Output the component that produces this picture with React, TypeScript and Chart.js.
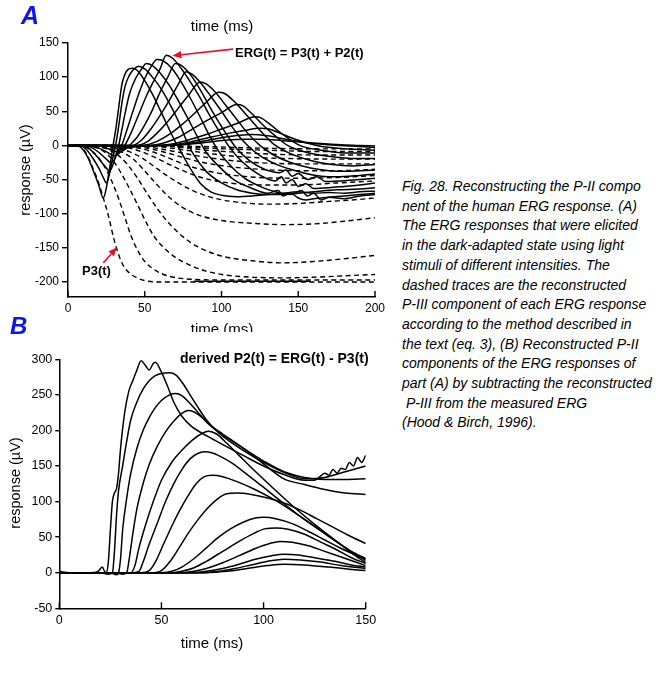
import React, { useEffect, useRef } from "react";
import { Chart, registerables } from "chart.js";

Chart.register(...registerables);

const FONT = '"Liberation Sans", Arial, Helvetica, sans-serif';

// ---------- tick labels ----------
const aXTicks = [0, 50, 100, 150, 200];
const aYTicks = [-200, -150, -100, -50, 0, 50, 100, 150];
const bXTicks = [0, 50, 100, 150];
const bYTicks = [-50, 0, 50, 100, 150, 200, 250, 300];

// ---------- panel A: measured ERG(t) (solid), brightest first ----------
const ergTraces: number[][][] = [
  [[0,0],[6,0],[9,-4],[13,-18],[17,-40],[20,-58],[23,-77],[25,-62],[27,-35],[29,-5],[31,22],[33,55],[35,88],[37,104],[39,111],[42,113],[45,110],[50,95],[55,75],[60,52],[65,28],[70,5],[75,-15],[80,-35],[86,-55],[93,-68],[100,-73],[110,-75],[120,-74],[130,-72],[140,-70],[150,-68],[160,-70],[170,-69],[180,-70],[190,-68],[200,-67]],
  [[0,0],[8,0],[12,-6],[16,-18],[20,-33],[23,-47],[25,-55],[27,-42],[29,-20],[31,0],[33,28],[35,60],[37,85],[40,103],[43,112],[46,116],[50,112],[55,100],[60,85],[66,62],[72,35],[77,8],[82,-14],[90,-38],[100,-55],[110,-65],[120,-70],[130,-72],[140,-72],[150,-70],[160,-68],[175,-65],[190,-64],[200,-62]],
  [[0,0],[10,0],[14,-5],[18,-14],[22,-25],[25,-33],[27,-38],[29,-30],[31,-15],[33,0],[35,22],[37,45],[40,75],[44,98],[48,112],[51,120],[55,117],[60,106],[66,88],[72,65],[78,40],[84,14],[90,-10],[98,-30],[108,-50],[120,-63],[130,-70],[137,-66],[140,-74],[145,-70],[150,-77],[155,-80],[160,-78],[170,-76],[180,-74],[190,-72],[200,-70]],
  [[0,0],[12,0],[16,-4],[20,-10],[24,-18],[28,-25],[30,-22],[32,-12],[35,0],[38,20],[42,48],[46,75],[50,98],[54,115],[58,126],[62,124],[68,112],[74,92],[80,68],[86,42],[92,15],[98,-8],[106,-30],[115,-48],[125,-60],[135,-68],[145,-72],[152,-66],[156,-74],[160,-70],[165,-80],[170,-76],[180,-78],[190,-74],[200,-72]],
  [[0,0],[15,0],[20,-4],[25,-9],[30,-15],[33,-12],[37,0],[41,18],[46,45],[51,72],[56,95],[60,112],[64,132],[68,128],[74,112],[80,92],[86,70],[92,45],[100,15],[106,-5],[114,-25],[124,-42],[135,-52],[139,-46],[142,-55],[146,-50],[150,-60],[155,-56],[160,-63],[170,-62],[180,-60],[190,-58],[200,-55]],
  [[0,0],[20,0],[25,-4],[30,-8],[33,-10],[37,-6],[40,0],[45,12],[50,30],[55,52],[60,78],[65,100],[70,120],[74,117],[80,103],[86,82],[92,58],[98,35],[104,14],[110,-5],[118,-22],[128,-35],[138,-40],[142,-36],[146,-45],[150,-41],[156,-50],[162,-46],[168,-53],[178,-52],[190,-50],[200,-48]],
  [[0,0],[25,0],[30,-3],[34,-6],[38,-4],[43,0],[48,8],[54,24],[60,44],[66,66],[72,90],[77,108],[81,104],[87,90],[93,72],[100,50],[106,30],[112,12],[117,0],[125,-15],[135,-27],[145,-35],[155,-41],[165,-45],[175,-46],[190,-44],[200,-42]],
  [[0,0],[28,0],[32,-2],[36,-4],[41,-2],[46,0],[52,6],[58,18],[65,35],[72,55],[79,75],[86,93],[90,90],[96,78],[103,58],[110,38],[117,18],[125,0],[134,-14],[145,-25],[158,-33],[170,-37],[182,-38],[200,-36]],
  [[0,0],[30,0],[38,-3],[44,-2],[50,0],[58,6],[66,16],[74,30],[82,46],[90,63],[98,78],[102,76],[108,65],[115,48],[122,30],[128,15],[134,2],[145,-12],[158,-22],[172,-28],[186,-30],[200,-28]],
  [[0,0],[35,0],[40,-2],[48,-1],[55,0],[63,4],[72,12],[81,24],[90,36],[100,48],[110,60],[114,58],[120,46],[127,30],[135,14],[143,0],[155,-10],[170,-16],[185,-19],[200,-19]],
  [[0,0],[40,-1],[50,-1],[60,0],[70,3],[80,9],[90,16],[100,24],[110,32],[122,42],[126,40],[132,30],[140,16],[151,0],[165,-7],[180,-11],[200,-11]],
  [[0,0],[50,0],[65,0],[75,3],[85,8],[95,13],[105,18],[115,22],[125,25],[131,24],[138,18],[148,9],[162,0],[180,-5],[200,-7]],
  [[0,0],[60,0],[72,1],[82,4],[92,8],[102,12],[112,15],[120,16],[130,14],[142,9],[155,4],[170,1],[185,-1],[200,-3]],
  [[0,0],[65,0],[80,2],[92,5],[104,8],[115,9],[126,9],[140,7],[158,4],[178,1],[190,0],[200,-1]],
];

// ---------- panel A: reconstructed P3(t) (dashed), brightest first ----------
const p3Traces: number[][][] = [
  [[0,0],[8,-2],[12,-12],[16,-32],[20,-55],[23,-77],[26,-100],[28,-119],[30,-138],[33,-160],[36,-176],[40,-187],[45,-194],[50,-198],[60,-200],[100,-200],[150,-200],[200,-200]],
  [[0,0],[12,-3],[16,-9],[20,-18],[25,-36],[29,-55],[33,-78],[37,-105],[41,-132],[45,-152],[50,-170],[57,-183],[65,-191],[80,-196],[100,-197],[130,-197],[160,-197],[200,-197]],
  [[0,0],[18,-3],[24,-10],[30,-24],[35,-42],[40,-63],[46,-90],[51,-113],[56,-133],[63,-151],[70,-164],[80,-176],[90,-184],[100,-189],[120,-193],[140,-194],[160,-193],[180,-191],[200,-189]],
  [[0,0],[22,-3],[28,-8],[33,-15],[38,-26],[45,-47],[52,-72],[58,-92],[65,-112],[75,-134],[85,-149],[100,-162],[120,-169],[140,-172],[160,-170],[180,-166],[200,-161]],
  [[0,0],[26,-3],[32,-7],[38,-13],[43,-21],[51,-40],[59,-60],[66,-76],[74,-90],[85,-102],[100,-110],[120,-114],[140,-116],[160,-115],[180,-111],[200,-106]],
  [[0,0],[30,-3],[36,-6],[42,-11],[48,-18],[55,-29],[63,-42],[72,-55],[82,-67],[95,-77],[110,-83],[130,-86],[150,-85],[170,-82],[185,-80],[200,-77]],
  [[0,0],[35,-2],[42,-5],[50,-11],[58,-19],[67,-29],[77,-39],[90,-49],[105,-55],[125,-58],[150,-58],[175,-55],[200,-52]],
  [[0,0],[40,-2],[48,-5],[56,-10],[65,-18],[76,-28],[90,-37],[105,-43],[125,-47],[150,-48],[175,-47],[200,-44]],
  [[0,0],[45,-2],[54,-5],[63,-10],[74,-17],[88,-25],[105,-31],[125,-35],[150,-37],[175,-37],[200,-35]],
  [[0,0],[50,-2],[60,-5],[72,-10],[86,-16],[102,-21],[122,-25],[150,-27],[200,-27]],
  [[0,0],[55,-1],[67,-4],[80,-8],[96,-13],[115,-17],[140,-19],[170,-20],[200,-20]],
  [[0,0],[60,-1],[74,-3],[90,-7],[110,-10],[135,-13],[170,-14],[200,-14]],
  [[0,0],[65,-1],[82,-3],[102,-5],[130,-7],[165,-9],[200,-9]],
  [[0,0],[75,-1],[95,-2],[125,-4],[165,-5],[200,-5]],
];
const p3SaturationSegment: number[][] = [[82,-199],[158,-199]];

// ---------- panel B: derived P2(t), brightest first ----------
const p2Traces: number[][][] = [
  [[0,2],[5,0],[10,0],[15,0],[19,2],[21,8],[22,3],[23,0],[24,15],[25,60],[26,100],[27,112],[28,118],[29,140],[30,175],[32,225],[34,255],[36,270],[38,285],[40,298],[42,292],[44,285],[46,294],[47,296],[50,282],[53,262],[56,240],[60,220],[65,205],[70,196],[75,188],[80,180],[90,165],[100,150],[110,138],[120,130],[125,130],[128,136],[130,140],[132,137],[134,145],[136,140],[138,147],[140,145],[142,155],[144,150],[146,162],[148,155],[150,165]],
  [[0,0],[20,0],[24,-2],[26,0],[27,30],[28,80],[29,115],[31,150],[33,185],[35,215],[38,240],[41,258],[44,270],[47,277],[50,280],[54,281],[57,278],[60,268],[64,250],[68,232],[72,215],[76,202],[80,192],[90,172],[100,155],[110,141],[120,132],[130,134],[140,142],[150,150]],
  [[0,0],[25,0],[28,-3],[29,0],[30,20],[31,60],[33,105],[35,140],[38,175],[41,200],[44,218],[47,232],[50,242],[54,250],[57,252],[60,249],[64,238],[68,225],[72,212],[76,202],[80,194],[90,175],[100,157],[110,142],[120,134],[130,131],[140,131],[150,132]],
  [[0,0],[28,0],[31,-2],[33,0],[34,15],[36,55],[38,90],[41,125],[44,152],[48,178],[52,198],[56,213],[60,224],[63,228],[66,226],[70,218],[75,205],[80,195],[90,175],[100,153],[110,132],[120,124],[130,117],[140,112],[150,110]],
  [[0,0],[30,0],[35,0],[37,10],[39,35],[42,65],[46,100],[50,130],[55,155],[60,172],[65,186],[70,196],[73,199],[77,195],[82,182],[88,165],[95,145],[105,118],[115,92],[125,68],[135,46],[143,28],[150,14]],
  [[0,0],[35,0],[39,2],[41,15],[44,40],[48,70],[52,100],[56,125],[60,145],[64,160],[68,168],[72,170],[77,166],[84,155],[92,138],[100,120],[110,97],[120,75],[130,55],[140,35],[150,17]],
  [[0,0],[40,0],[44,3],[47,15],[51,40],[55,65],[59,88],[63,108],[67,125],[71,135],[75,137],[80,135],[87,128],[95,118],[105,103],[115,85],[125,65],[135,45],[143,30],[150,20]],
  [[0,0],[45,0],[50,3],[54,15],[58,32],[63,55],[68,75],[73,92],[78,105],[82,111],[87,112],[94,110],[102,105],[110,98],[118,88],[126,76],[134,64],[142,52],[150,41]],
  [[0,0],[50,0],[55,2],[60,8],[66,20],[72,35],[78,50],[84,62],[90,71],[96,77],[100,78],[106,76],[114,69],[122,58],[130,46],[138,34],[145,25],[150,19]],
  [[0,0],[55,0],[60,2],[66,7],[72,16],[80,30],[88,44],[95,55],[101,62],[106,63],[112,61],[120,54],[128,43],[136,32],[143,21],[150,13]],
  [[0,0],[60,0],[66,2],[72,6],[80,14],[88,24],[96,34],[103,41],[108,44],[114,43],[122,38],[130,30],[138,22],[145,15],[150,10]],
  [[0,0],[65,0],[72,2],[80,6],[88,12],[96,19],[104,24],[110,26],[117,25],[125,21],[135,16],[143,11],[150,8]],
  [[0,0],[70,0],[78,2],[86,6],[94,11],[102,16],[110,19],[118,18],[128,15],[138,10],[150,6]],
  [[0,0],[72,0],[82,2],[92,6],[102,10],[110,12],[120,11],[132,8],[142,5],[150,3]],
];

// ---------- annotation arrows (data coordinates: tail -> head) ----------
const ergArrow: number[][] = [[107.5, 141], [68, 131.5]];
const p3Arrow: number[][] = [[23, -172], [32, -149]];

const toXY = (pts: number[][]) => pts.map(([x, y]) => ({ x, y }));

function inwardXTicks(len: number) {
  return {
    id: "inwardXTicks",
    afterDraw(chart: any) {
      const sx = chart.scales.x;
      const { ctx, chartArea } = chart;
      ctx.save();
      ctx.strokeStyle = "#000";
      ctx.lineWidth = 1.4;
      for (const t of sx.ticks) {
        const px = sx.getPixelForValue(t.value);
        ctx.beginPath();
        ctx.moveTo(px, chartArea.bottom);
        ctx.lineTo(px, chartArea.bottom - len);
        ctx.stroke();
      }
      ctx.restore();
    },
  };
}

function arrowPlugin(arrows: number[][][]) {
  return {
    id: "redArrows",
    afterDraw(chart: any) {
      const sx = chart.scales.x;
      const sy = chart.scales.y;
      const ctx = chart.ctx;
      ctx.save();
      ctx.strokeStyle = "#e3122b";
      ctx.fillStyle = "#e3122b";
      ctx.lineWidth = 1.6;
      for (const [tail, head] of arrows) {
        const x1 = sx.getPixelForValue(tail[0]);
        const y1 = sy.getPixelForValue(tail[1]);
        const x2 = sx.getPixelForValue(head[0]);
        const y2 = sy.getPixelForValue(head[1]);
        const ang = Math.atan2(y2 - y1, x2 - x1);
        const hl = 9;
        const hw = 3.6;
        const bx = x2 - hl * Math.cos(ang);
        const by = y2 - hl * Math.sin(ang);
        ctx.beginPath();
        ctx.moveTo(x1, y1);
        ctx.lineTo(bx, by);
        ctx.stroke();
        ctx.beginPath();
        ctx.moveTo(x2, y2);
        ctx.lineTo(bx + hw * Math.sin(ang), by - hw * Math.cos(ang));
        ctx.lineTo(bx - hw * Math.sin(ang), by + hw * Math.cos(ang));
        ctx.closePath();
        ctx.fill();
      }
      ctx.restore();
    },
  };
}

interface Cfg {
  datasets: any[];
  xMin: number; xMax: number; yMin: number; yMax: number;
  xTicks: number[]; yTicks: number[];
  padding: any; yWidth: number; xHeight: number;
  fontSize: number; yTickLen: number; yLabelPad: number; xLabelPad: number;
  plugins: any[];
}

function buildConfig(c: Cfg): any {
  const tickFont = { family: FONT, size: c.fontSize };
  return {
    type: "line",
    data: { datasets: c.datasets },
    plugins: c.plugins,
    options: {
      animation: false,
      responsive: false,
      events: [],
      layout: { padding: c.padding },
      plugins: { legend: { display: false }, tooltip: { enabled: false }, title: { display: false } },
      elements: { point: { radius: 0 }, line: { fill: false } },
      scales: {
        x: {
          type: "linear",
          min: c.xMin,
          max: c.xMax,
          afterBuildTicks: (s: any) => { s.ticks = c.xTicks.map((value) => ({ value })); },
          afterFit: (s: any) => { s.height = c.xHeight; },
          ticks: { font: tickFont, color: "#000", padding: c.xLabelPad, maxRotation: 0, autoSkip: false, callback: (v: any) => String(v) },
          grid: { display: true, drawOnChartArea: false, drawTicks: false, color: "#000" },
          border: { display: true, color: "#000", width: 1.5 },
        },
        y: {
          type: "linear",
          min: c.yMin,
          max: c.yMax,
          afterBuildTicks: (s: any) => { s.ticks = c.yTicks.map((value) => ({ value })); },
          afterFit: (s: any) => { s.width = c.yWidth; },
          ticks: { font: tickFont, color: "#000", padding: c.yLabelPad, autoSkip: false, callback: (v: any) => String(v) },
          grid: { display: true, drawOnChartArea: false, drawTicks: true, tickLength: c.yTickLen, color: "#000", lineWidth: 1.4 },
          border: { display: true, color: "#000", width: 1.5 },
        },
      },
    },
  };
}

const solid = (pts: number[][]) => ({
  data: toXY(pts),
  borderColor: "#000",
  borderWidth: 1.5,
  pointRadius: 0,
  cubicInterpolationMode: "monotone",
  fill: false,
});
const dashed = (pts: number[][]) => ({
  data: toXY(pts),
  borderColor: "#000",
  borderWidth: 1.4,
  borderDash: [5, 3.5],
  pointRadius: 0,
  cubicInterpolationMode: "monotone",
  fill: false,
});

function configA() {
  return buildConfig({
    datasets: [
      ...p3Traces.map(dashed),
      solid(p3SaturationSegment),
      ...ergTraces.map(solid),
    ],
    xMin: 0, xMax: 200, yMin: -222, yMax: 150,
    xTicks: aXTicks, yTicks: aYTicks,
    padding: { top: 43, right: 15, left: 0, bottom: 0 },
    yWidth: 68, xHeight: 48,
    fontSize: 12, yTickLen: 6, yLabelPad: 3, xLabelPad: 4,
    plugins: [inwardXTicks(6), arrowPlugin([ergArrow, p3Arrow])],
  });
}

function configB() {
  return buildConfig({
    datasets: p2Traces.map(solid),
    xMin: 0, xMax: 150, yMin: -50, yMax: 300,
    xTicks: bXTicks, yTicks: bYTicks,
    padding: { top: 19.3, right: 24.3, left: 0, bottom: 0 },
    yWidth: 59.3, xHeight: 71.7,
    fontSize: 12.5, yTickLen: 4, yLabelPad: 3, xLabelPad: 5,
    plugins: [inwardXTicks(6)],
  });
}

function ChartCanvas(props: { make: () => any; left: number; top: number; width: number; height: number }) {
  const ref = useRef<HTMLCanvasElement>(null);
  useEffect(() => {
    const chart = new Chart(ref.current as HTMLCanvasElement, props.make());
    return () => chart.destroy();
  }, []);
  return (
    <canvas
      ref={ref}
      width={props.width}
      height={props.height}
      style={{ position: "absolute", left: props.left, top: props.top, width: props.width, height: props.height }}
    />
  );
}

const captionLines = [
  "Fig. 28. Reconstructing the P-II compo",
  "nent of the human ERG response. (A)",
  "The ERG responses that were elicited",
  "in the dark-adapted state using light",
  "stimuli of different intensities. The",
  "dashed traces are the reconstructed",
  "P-III component of each ERG response",
  "according to the method described in",
  "the text (eq. 3), (B) Reconstructed P-II",
  "components of the ERG responses of",
  "part (A) by subtracting the reconstructed",
  " P-III from the measured ERG",
  "(Hood & Birch, 1996).",
];

const centered = (x: number, y: number, extra: React.CSSProperties = {}): React.CSSProperties => ({
  position: "absolute",
  left: x,
  top: y,
  transform: "translate(-50%, -50%)",
  whiteSpace: "nowrap",
  lineHeight: 1,
  fontFamily: FONT,
  color: "#000",
  ...extra,
});

export default function App() {
  return (
    <div style={{ position: "fixed", left: 0, top: 0, width: 661, height: 680, background: "#fff", overflow: "hidden", fontFamily: FONT }}>
      <ChartCanvas make={configA} left={0} top={0} width={390} height={345} />
      <ChartCanvas make={configB} left={0} top={340} width={390} height={340} />

      <div style={{ position: "absolute", left: 21, top: 3, fontFamily: FONT, fontWeight: "bold", fontStyle: "italic", fontSize: 25, color: "#0c14f2", lineHeight: 1 }}>A</div>
      <div style={{ position: "absolute", left: 10, top: 314, fontFamily: FONT, fontWeight: "bold", fontStyle: "italic", fontSize: 24, color: "#0c14f2", lineHeight: 1 }}>B</div>

      <div style={centered(222, 25, { fontSize: 15 })}>time (ms)</div>
      <div style={{ position: "absolute", left: 0, top: 321, width: 390, height: 11, overflow: "hidden" }}>
        <div style={{ position: "absolute", left: 222, top: 0, transform: "translateX(-50%)", fontSize: 15, lineHeight: "15px", whiteSpace: "nowrap", fontFamily: FONT }}>time (ms)</div>
      </div>
      <div style={centered(212, 642, { fontSize: 15 })}>time (ms)</div>

      <div style={centered(25, 170, { fontSize: 14.5, transform: "translate(-50%, -50%) rotate(-90deg)" })}>response (µV)</div>
      <div style={centered(15, 483, { fontSize: 14.5, transform: "translate(-50%, -50%) rotate(-90deg)" })}>response (µV)</div>

      <div style={{ position: "absolute", left: 235, top: 46, fontSize: 13, fontWeight: "bold", fontFamily: FONT, whiteSpace: "nowrap", lineHeight: "14px" }}>ERG(t) = P3(t) + P2(t)</div>
      <div style={{ position: "absolute", left: 82, top: 264, fontSize: 13, fontWeight: "bold", fontFamily: FONT, whiteSpace: "nowrap", lineHeight: "14px" }}>P3(t)</div>
      <div style={{ position: "absolute", left: 180, top: 351, fontSize: 14, fontWeight: "bold", fontFamily: FONT, whiteSpace: "nowrap", lineHeight: "15px" }}>derived P2(t) = ERG(t) - P3(t)</div>

      <div style={{ position: "absolute", left: 402, top: 177, fontSize: 14, fontStyle: "italic", fontFamily: FONT, lineHeight: "19.7px", color: "#000" }}>
        {captionLines.map((l, i) => (
          <div key={i} style={{ whiteSpace: "pre" }}>{l}</div>
        ))}
      </div>
    </div>
  );
}
